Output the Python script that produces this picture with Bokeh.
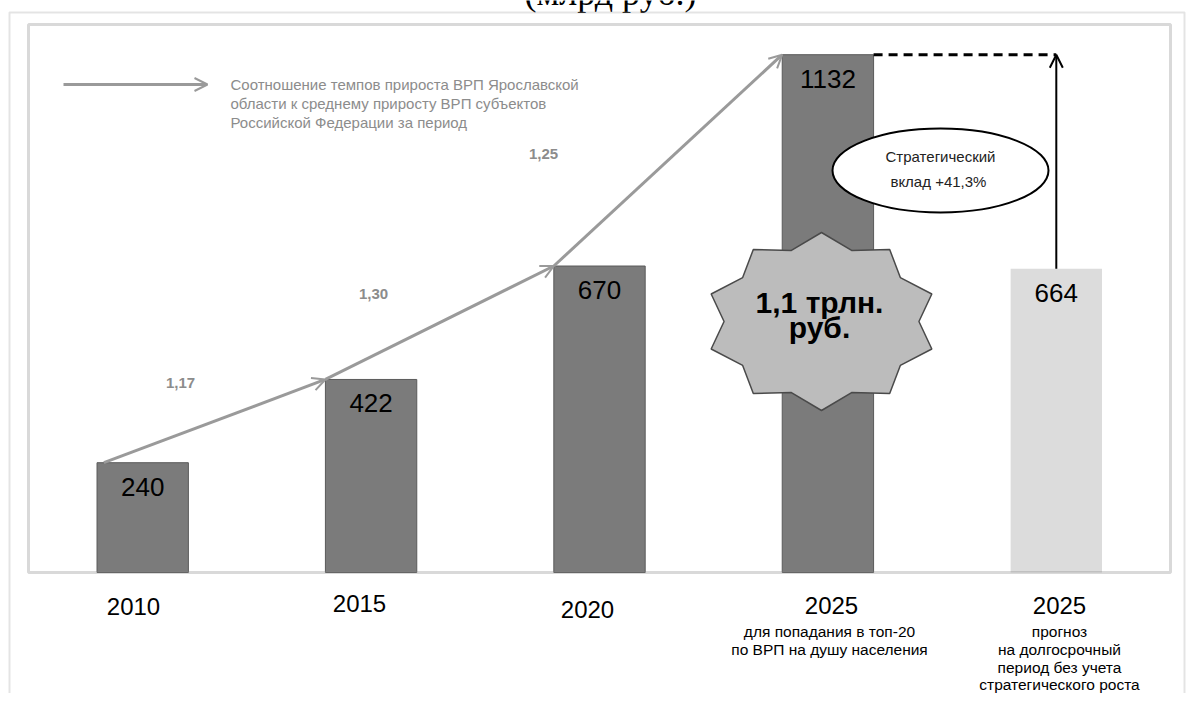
import numpy as np
from bokeh.plotting import figure
from bokeh.models import ColumnDataSource, Arrow, OpenHead, BoxAnnotation
from bokeh.core.properties import value
from bokeh.embed import file_html
from bokeh.resources import INLINE

# ---------------- data ----------------
title_text = "(млрд руб.)"
categories = ["2010", "2015", "2020", "2025", "2025"]
gdp_values = [240, 422, 670, 1132, 664]
ratio_labels = ["1,17", "1,30", "1,25"]
sub_labels = [
    [],
    [],
    [],
    ["для попадания в топ-20", "по ВРП на душу населения"],
    ["прогноз", "на долгосрочный", "период без учета", "стратегического роста"],
]
legend_lines = [
    "Соотношение темпов прироста ВРП Ярославской",
    "области к среднему приросту ВРП субъектов",
    "Российской Федерации за период",
]
star_lines = ["1,1 трлн.", "руб."]
ellipse_lines = ["Стратегический", "вклад  +41,3%"]

# ---------------- layout ----------------
W, H = 1187, 693
PX = 228.4          # pixels per category step
PY = 0.45743        # pixels per value unit
X_LEFT_PX, BASE_PX = 28, 572
FONT = "Liberation Sans"


def dx(px):
    return -0.5 + (px - X_LEFT_PX) / PX


def dy(py):
    return (BASE_PX - py) / PY


Y_TOP = dy(24)

p = figure(width=W, height=H, x_range=(dx(0), dx(W)), y_range=(dy(H), dy(0)),
           output_backend="svg", toolbar_location=None,
           x_axis_location=None, y_axis_location=None,
           min_border_left=0, min_border_top=0, min_border_right=0, min_border_bottom=0)
p.grid.visible = False
p.outline_line_color = None
p.background_fill_color = "white"
p.border_fill_color = "white"

# title, cut off at the top edge as in the source picture
p.text(x=[dx(610)], y=[dy(-8)], text=[title_text], text_align="center",
       text_baseline="middle", text_font_size="36px", text_color="black",
       text_font=value("Liberation Serif"))

# frames
p.add_layout(BoxAnnotation(left=dx(9), right=dx(W - 3), top=dy(12), bottom=dy(H + 60),
                           fill_alpha=0, line_color="#a6a6a6", line_width=2))
p.add_layout(BoxAnnotation(left=-0.5, right=4.5, top=Y_TOP, bottom=0,
                           fill_alpha=0, line_color="#808080", line_width=3))

xs = list(range(len(gdp_values)))
src = ColumnDataSource(dict(
    x=xs, v=gdp_values, lab=[str(v) for v in gdp_values],
    fill=["#7b7b7b"] * 4 + ["#dcdcdc"],
    la=[1, 1, 1, 1, 0],
))
BW = 0.4
p.vbar(x="x", top="v", bottom=0, width=BW, fill_color="fill",
       line_color="#5a5a5a", line_alpha="la", line_width=1, source=src)
p.text(x="x", y="v", text="lab", y_offset=24, text_align="center",
       text_baseline="middle", text_font_size="26px", text_color="black",
       text_font=value(FONT), source=src)

# growth arrows between bar tops
GRAY = "#9a9a9a"
for i in range(3):
    xs0 = xs[i] - BW / 2 + (0.03 if i == 0 else 0)
    p.add_layout(Arrow(x_start=xs0, y_start=gdp_values[i],
                       x_end=xs[i + 1] - BW / 2, y_end=gdp_values[i + 1],
                       line_color=GRAY, line_width=3,
                       end=OpenHead(size=13, line_color=GRAY, line_width=2)))

RATIO_POS = [(180, 382), (373, 293), (543, 153)]
p.text(x=[dx(a) for a, b in RATIO_POS], y=[dy(b) for a, b in RATIO_POS],
       text=ratio_labels, text_align="center", text_baseline="middle",
       text_font_size="15px", text_font_style="bold", text_color="#8c8c8c",
       text_font=value(FONT))

# legend
p.add_layout(Arrow(x_start=dx(63), y_start=dy(84), x_end=dx(207), y_end=dy(84),
                   line_color=GRAY, line_width=3,
                   end=OpenHead(size=13, line_color=GRAY, line_width=2)))
p.text(x=[dx(230)] * 3, y=[dy(84), dy(103), dy(122)], text=legend_lines,
       text_align="left", text_baseline="middle", text_font_size="15px",
       text_color="#8c8c8c", text_font=value(FONT))

# dashed target line and strategic arrow
p.line(x=[xs[3] + BW / 2, xs[4]], y=[gdp_values[3], gdp_values[3]],
       line_color="black", line_width=3, line_dash="9 6")
p.add_layout(Arrow(x_start=xs[4], y_start=gdp_values[4], x_end=xs[4], y_end=gdp_values[3],
                   line_color="black", line_width=2,
                   end=OpenHead(size=13, line_color="black", line_width=2)))

# ellipse callout
p.ellipse(x=dx(940), y=dy(170), width=216, height=84, width_units="screen",
          height_units="screen", fill_color="white", line_color="black", line_width=2)
p.text(x=[dx(940)] * 2, y=[dy(156), dy(181)], text=ellipse_lines,
       text_align="center", text_baseline="middle", text_font_size="15px",
       text_color="#222222", text_font=value(FONT))

# star burst
cx, cy = dx(821), dy(321)
rx, ry = 116 / PX, 89 / PY
ang = np.deg2rad(90 + np.arange(20) * 18)
rad = np.where(np.arange(20) % 2 == 0, 1.0, 0.84)
p.patch(x=cx + rx * rad * np.cos(ang), y=cy + ry * rad * np.sin(ang),
        fill_color="#bcbcbc", line_color="#4a4a4a", line_width=1.5)
p.text(x=[dx(819)] * 2, y=[dy(302), dy(327)], text=star_lines,
       text_align="center", text_baseline="middle", text_font_size="30px",
       text_font_style="bold", text_color="black", text_font=value(FONT))

# category labels below the inner frame
YEAR_POS = [(133, 606), (359, 603), (587, 609), (831, 605), (1059, 605)]
p.text(x=[dx(a) for a, b in YEAR_POS], y=[dy(b) for a, b in YEAR_POS],
       text=categories, text_align="center", text_baseline="middle",
       text_font_size="24px", text_color="black", text_font=value(FONT))
SUB_X = [0, 0, 0, 829, 1059]
SUB_Y = [631, 649, 667, 684]
sx, sy, st = [], [], []
for i, lines in enumerate(sub_labels):
    for j, t in enumerate(lines):
        sx.append(dx(SUB_X[i]))
        sy.append(dy(SUB_Y[j]))
        st.append(t)
p.text(x=sx, y=sy, text=st, text_align="center", text_baseline="middle",
       text_font_size="15.5px", text_color="black", text_font=value(FONT))

open("out.html", "w").write(file_html(p, INLINE))
